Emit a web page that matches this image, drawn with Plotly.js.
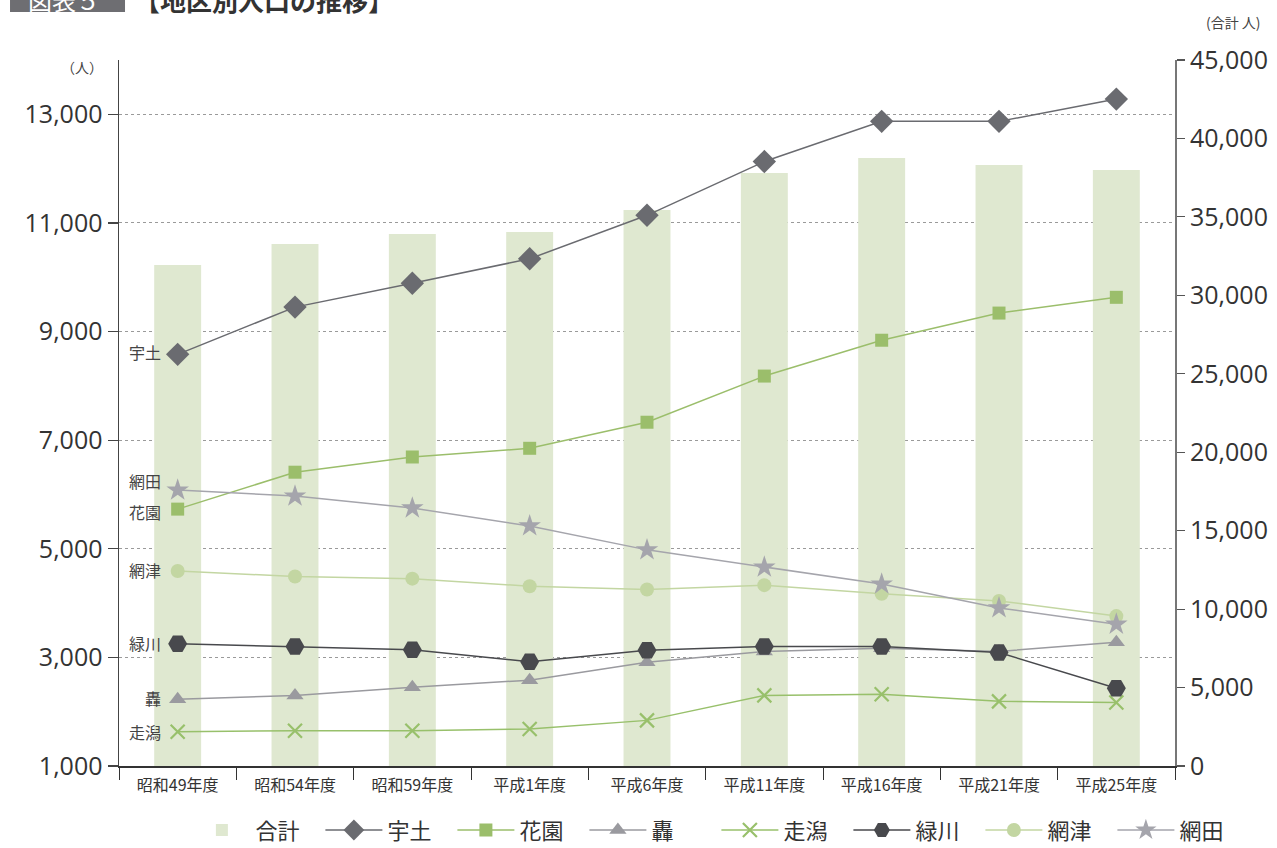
<!DOCTYPE html>
<html>
<head>
<meta charset="utf-8">
<script src="https://cdn.plot.ly/plotly-3.0.1.min.js"></script>
<style>html,body{margin:0;padding:0;background:#fff;}#chart{width:1277px;height:848px;}</style>
</head>
<body>
<div id="chart"></div>
<script>
const categories = ['昭和49年度','昭和54年度','昭和59年度','平成1年度','平成6年度','平成11年度','平成16年度','平成21年度','平成25年度'];
const totalVals = [31930, 33270, 33910, 34040, 35440, 37800, 38750, 38310, 37990];
const utoVals = [8580, 9450, 9890, 10340, 11140, 12130, 12870, 12870, 13280];
const hanazonoVals = [5730, 6410, 6690, 6850, 7330, 8180, 8840, 9340, 9630];
const todorokiVals = [2230, 2300, 2450, 2580, 2910, 3110, 3170, 3110, 3280];
const hashirigataVals = [1630, 1650, 1650, 1680, 1840, 2300, 2320, 2190, 2170];
const midorikawaVals = [3250, 3200, 3140, 2920, 3130, 3200, 3200, 3090, 2430];
const ouzuVals = [4590, 4490, 4450, 4310, 4250, 4330, 4170, 4040, 3760];
const oudaVals = [6080, 5970, 5750, 5420, 4980, 4660, 4350, 3910, 3610];
const seriesLabels = ['合計','宇土','花園','轟','走潟','緑川','網津','網田'];

const CJK = 'Noto Sans CJK JP';
const NUM = 'Open Sans, Noto Sans CJK JP, sans-serif';

function lineTrace(name, vals, color, symbol, size, extra) {
  return Object.assign({
    type: 'scatter', mode: 'lines+markers', name: name,
    x: categories, y: vals, yaxis: 'y2',
    line: {color: color, width: 1.5},
    marker: {symbol: symbol, size: size, color: color, line: {width: 0}}
  }, extra || {});
}

const traces = [
  {type: 'bar', name: seriesLabels[0], x: categories, y: totalVals, yaxis: 'y',
   marker: {color: '#dfe8d0'}, width: 0.4},
  lineTrace(seriesLabels[1], utoVals, '#6a6b70', 'diamond', 18),
  lineTrace(seriesLabels[2], hanazonoVals, '#9bbe6b', 'square', 13),
  lineTrace(seriesLabels[3], todorokiVals, '#9a9a9f', 'triangle-up', 15),
  lineTrace(seriesLabels[4], hashirigataVals, '#98c06b', 'x-thin', 14,
    {marker: {symbol: 'x-thin', size: 14, color: '#98c06b', line: {width: 2.2, color: '#98c06b'}}}),
  lineTrace(seriesLabels[5], midorikawaVals, '#48494d', 'hexagon2', 19),
  lineTrace(seriesLabels[6], ouzuVals, '#c3d6a2', 'circle', 14),
  lineTrace(seriesLabels[7], oudaVals, '#a5a5ac', 'star', 17)
];

const lineSeries = [utoVals, oudaVals, hanazonoVals, ouzuVals, midorikawaVals, todorokiVals, hashirigataVals];
const lineNames = ['宇土','網田','花園','網津','緑川','轟','走潟'];
const lineShift = [2, 9, -3, 1, 1, 1, 0];
const annotations = lineNames.map((n, i) => ({
  x: categories[0], y: lineSeries[i][0], xref: 'x', yref: 'y2',
  text: n, showarrow: false, xanchor: 'right', yanchor: 'middle',
  xshift: -15, yshift: lineShift[i],
  font: {family: CJK, size: 16, color: '#444'}
}));
annotations.push(
  {xref: 'paper', yref: 'paper', x: -0.035, y: 0.99, text: '（人）', showarrow: false,
   xanchor: 'center', yanchor: 'middle', font: {family: CJK, size: 14, color: '#444'}},
  {xref: 'paper', yref: 'paper', x: 1.055, y: 1.054, text: '(合計 人)', showarrow: false,
   xanchor: 'center', yanchor: 'middle', font: {family: CJK, size: 14, color: '#444'}},
  {xref: 'paper', yref: 'paper', x: -0.052, y: 1.086, text: '図表５', showarrow: false,
   xanchor: 'center', yanchor: 'middle', font: {family: CJK, size: 24, color: '#ffffff'}},
  {xref: 'paper', yref: 'paper', x: 0.012, y: 1.086, text: '<b>【地区別人口の推移】</b>', showarrow: false,
   xanchor: 'left', yanchor: 'middle', font: {family: CJK, size: 26, color: '#333'}}
);

const layout = {
  width: 1277, height: 848,
  margin: {l: 119, r: 102, t: 60, b: 82},
  paper_bgcolor: '#fff', plot_bgcolor: 'rgba(0,0,0,0)',
  font: {family: NUM, color: '#333'},
  showlegend: true,
  legend: {orientation: 'h', xref: 'container', yref: 'container', x: 0.561, xanchor: 'center',
           y: 0.021, yanchor: 'middle',
           font: {family: CJK, size: 22, color: '#333'}, itemwidth: 57,
           entrywidth: 60, entrywidthmode: 'pixels', traceorder: 'normal'},
  bargap: 0.6,
  xaxis: {type: 'category', range: [-0.5, 8.5], showline: true, linecolor: '#333', linewidth: 1.5,
          ticks: 'outside', tickson: 'boundaries', ticklen: 12, tickcolor: '#333', tickwidth: 1,
          showgrid: false, ticklabelstandoff: 4,
          tickfont: {family: CJK, size: 16, color: '#333'}, fixedrange: true},
  yaxis: {side: 'right', range: [0, 45000], dtick: 5000, tick0: 0, tickformat: ',d',
          showline: true, linecolor: '#777', linewidth: 2, ticks: 'outside', ticklen: 8,
          tickcolor: '#555', tickwidth: 1.2, showgrid: false, zeroline: false,
          tickfont: {family: NUM, size: 25, color: '#333'}},
  yaxis2: {side: 'left', overlaying: 'y', range: [1000, 14000],
           tickvals: [1000, 3000, 5000, 7000, 9000, 11000, 13000], tickformat: ',d',
           showline: true, linecolor: '#444', linewidth: 1.5, ticks: 'outside', ticklen: 10,
           tickcolor: '#444', tickwidth: 1.2, showgrid: true, gridcolor: '#9a9a9a',
           griddash: 'dot', gridwidth: 1, zeroline: false,
           tickfont: {family: NUM, size: 25, color: '#333'}},
  shapes: [
    {type: 'rect', xref: 'paper', yref: 'paper', x0: -0.1032, x1: 0.0057, y0: 1.068, y1: 1.12,
     fillcolor: '#6e6e72', line: {width: 0}, layer: 'below'}
  ],
  annotations: annotations
};

Plotly.newPlot('chart', traces, layout, {displayModeBar: false, staticPlot: true});
</script>
</body>
</html>
